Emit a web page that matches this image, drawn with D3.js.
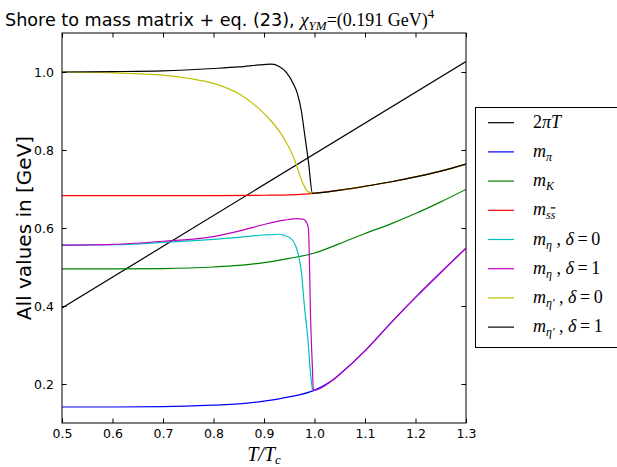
<!DOCTYPE html>
<html>
<head>
<meta charset="utf-8">
<script src="https://cdn.jsdelivr.net/npm/d3@7"></script>
<style>
  body { margin: 0; background: #fff; }
  svg { display: block; }
</style>
</head>
<body>
<svg id="chart"></svg>
<script>
// T/Tc, value [GeV]
var twoPiT = [[0.5, 0.395], [1.3, 1.027]];
var mPi = [[0.5, 0.141], [0.6, 0.141], [0.7, 0.142], [0.8, 0.146], [0.85, 0.149], [0.9, 0.156],
  [0.95, 0.167], [0.998, 0.183], [1.036, 0.21], [1.05, 0.225], [1.1, 0.285], [1.15, 0.355],
  [1.2, 0.422], [1.25, 0.486], [1.3, 0.548]];
var mK = [[0.5, 0.495], [0.6, 0.495], [0.7, 0.496], [0.8, 0.5], [0.85, 0.504], [0.9, 0.511],
  [0.95, 0.522], [1.0, 0.536], [1.05, 0.56], [1.1, 0.586], [1.15, 0.61], [1.2, 0.637],
  [1.25, 0.667], [1.3, 0.699]];
var mSS = [[0.5, 0.683], [0.8, 0.683], [0.9, 0.684], [0.95, 0.685], [0.98, 0.687], [0.998, 0.689],
  [1.05, 0.697], [1.1, 0.707], [1.15, 0.718], [1.2, 0.731], [1.25, 0.746], [1.3, 0.764]];
var mEta0 = [[0.5, 0.556], [0.6, 0.557], [0.7, 0.563], [0.8, 0.571], [0.85, 0.576], [0.9, 0.582],
  [0.93, 0.584], [0.945, 0.579], [0.957, 0.568], [0.967, 0.537], [0.974, 0.488], [0.98, 0.4],
  [0.987, 0.313], [0.9915, 0.236], [0.996, 0.184]];
var mEta1 = [[0.5, 0.556], [0.6, 0.558], [0.7, 0.566], [0.8, 0.578], [0.85, 0.592], [0.9, 0.609],
  [0.94, 0.62], [0.965, 0.624], [0.977, 0.623], [0.984, 0.615], [0.988, 0.598], [0.99, 0.51],
  [0.992, 0.382], [0.9955, 0.254], [0.998, 0.183], [1.036, 0.21], [1.05, 0.225], [1.1, 0.285],
  [1.15, 0.355], [1.2, 0.422], [1.25, 0.486], [1.3, 0.548]];
var mEtaP0 = [[0.5, 1.0], [0.6, 0.998], [0.7, 0.992], [0.75, 0.984], [0.8, 0.971], [0.852, 0.943],
  [0.88, 0.917], [0.911, 0.879], [0.937, 0.835], [0.957, 0.786], [0.964, 0.762], [0.974, 0.724],
  [0.987, 0.693], [0.998, 0.689], [1.05, 0.697], [1.1, 0.707], [1.15, 0.718], [1.2, 0.731],
  [1.25, 0.746], [1.3, 0.764]];
var mEtaP1 = [[0.5, 1.0], [0.6, 1.001], [0.7, 1.003], [0.8, 1.009], [0.85, 1.013], [0.9, 1.019],
  [0.915, 1.02], [0.93, 1.014], [0.945, 0.998], [0.958, 0.97], [0.966, 0.945], [0.974, 0.9],
  [0.98, 0.845], [0.988, 0.77], [0.996, 0.689], [1.05, 0.697], [1.1, 0.707], [1.15, 0.718],
  [1.2, 0.731], [1.25, 0.746], [1.3, 0.764]];

var xTicks = [0.5, 0.6, 0.7, 0.8, 0.9, 1.0, 1.1, 1.2, 1.3];
var yTicks = [0.2, 0.4, 0.6, 0.8, 1.0];

var W = 617, H = 467;
var box = {left: 62, right: 466, top: 33, bottom: 423};

var svg = d3.select("#chart").attr("width", W).attr("height", H);
svg.append("rect").attr("width", W).attr("height", H).attr("fill", "#fff");

var x = d3.scaleLinear().domain([0.5, 1.3]).range([box.left, box.right]);
var y = d3.scaleLinear().domain([0.1, 1.1]).range([box.bottom, box.top]);

var series = [
  {data: twoPiT, color: "#000000"},
  {data: mPi, color: "#0000ff"},
  {data: mK, color: "#008000"},
  {data: mSS, color: "#ff0000"},
  {data: mEta0, color: "#00bfbf"},
  {data: mEta1, color: "#bf00bf"},
  {data: mEtaP0, color: "#bfbf00"},
  {data: mEtaP1, color: "#000000"}
];

var line = d3.line()
  .x(function(d) { return x(d[0]); })
  .y(function(d) { return y(d[1]); })
  .curve(d3.curveMonotoneX);

svg.append("clipPath").attr("id", "clip")
  .append("rect").attr("x", box.left).attr("y", box.top)
  .attr("width", box.right - box.left).attr("height", box.bottom - box.top);

var plot = svg.append("g").attr("clip-path", "url(#clip)");
series.forEach(function(s) {
  plot.append("path")
    .attr("d", line(s.data))
    .attr("fill", "none")
    .attr("stroke", s.color)
    .attr("stroke-width", 1.2);
});

// axes: ticks inside on all four sides (classic matplotlib look)
var tk = 4.5;
svg.append("g").attr("transform", "translate(0," + box.bottom + ")")
  .call(d3.axisBottom(x).tickValues(xTicks).tickSizeInner(-tk).tickSizeOuter(0).tickPadding(6)
    .tickFormat(d3.format(".1f")));
svg.append("g").attr("transform", "translate(0," + box.top + ")")
  .call(d3.axisTop(x).tickValues(xTicks).tickSizeInner(-tk).tickSizeOuter(0).tickFormat(""));
svg.append("g").attr("transform", "translate(" + box.left + ",0)")
  .call(d3.axisLeft(y).tickValues(yTicks).tickSizeInner(-tk).tickSizeOuter(0).tickPadding(8)
    .tickFormat(d3.format(".1f")));
svg.append("g").attr("transform", "translate(" + box.right + ",0)")
  .call(d3.axisRight(y).tickValues(yTicks).tickSizeInner(-tk).tickSizeOuter(0).tickFormat(""));

svg.selectAll(".domain").remove();
svg.selectAll(".tick line").attr("stroke", "#000").attr("stroke-width", 1);
svg.selectAll(".tick text")
  .attr("font-family", "DejaVu Sans").attr("font-size", "12.5px").attr("fill", "#000");

svg.append("rect")
  .attr("x", box.left).attr("y", box.top)
  .attr("width", box.right - box.left).attr("height", box.bottom - box.top)
  .attr("fill", "none").attr("stroke", "#000").attr("stroke-width", 1);

// title
var title = svg.append("text").attr("x", 5).attr("y", 26)
  .attr("font-family", "DejaVu Sans").attr("font-size", "17.6px");
title.append("tspan").text("Shore to mass matrix + eq. (23), ");
title.append("tspan").attr("font-family", "Liberation Serif").attr("font-style", "italic")
  .attr("font-size", "19px").text("χ");
title.append("tspan").attr("font-family", "Liberation Serif").attr("font-style", "italic")
  .attr("font-size", "13px").attr("dy", 4).text("YM");
title.append("tspan").attr("font-family", "Liberation Serif")
  .attr("font-size", "18px").attr("dy", -4).text("=(0.191 GeV)");
title.append("tspan").attr("font-family", "Liberation Serif")
  .attr("font-size", "13px").attr("dy", -8).text("4");

// axis labels
svg.append("text")
  .attr("transform", "translate(31," + ((box.top + box.bottom) / 2) + ") rotate(-90)")
  .attr("text-anchor", "middle")
  .attr("font-family", "DejaVu Sans").attr("font-size", "20px")
  .text("All values in [GeV]");

var xl = svg.append("text").attr("x", (box.left + box.right) / 2).attr("y", 461)
  .attr("text-anchor", "middle")
  .attr("font-family", "Liberation Serif").attr("font-style", "italic").attr("font-size", "20px");
xl.append("tspan").text("T/T");
xl.append("tspan").attr("font-size", "13px").attr("dy", 3).text("c");

// legend
var legendItems = [
  {color: "#000000", parts: [["2", 0, "normal"], ["πT", 0, "italic"]]},
  {color: "#0000ff", parts: [["m", 0, "italic"], ["π", 1, "italic"]]},
  {color: "#008000", parts: [["m", 0, "italic"], ["K", 1, "italic"]]},
  {color: "#ff0000", parts: [["m", 0, "italic"], ["s", 1, "italic"], ["s", 2, "italic"]]},
  {color: "#00bfbf", parts: [["m", 0, "italic"], ["η", 1, "italic"], [" , ", 0, "normal"], ["δ", 0, "italic"], ["\u2009=\u20090", 0, "normal"]]},
  {color: "#bf00bf", parts: [["m", 0, "italic"], ["η", 1, "italic"], [" , ", 0, "normal"], ["δ", 0, "italic"], ["\u2009=\u20091", 0, "normal"]]},
  {color: "#bfbf00", parts: [["m", 0, "italic"], ["η′", 1, "italic"], [" , ", 0, "normal"], ["δ", 0, "italic"], ["\u2009=\u20090", 0, "normal"]]},
  {color: "#000000", parts: [["m", 0, "italic"], ["η′", 1, "italic"], [" , ", 0, "normal"], ["δ", 0, "italic"], ["\u2009=\u20091", 0, "normal"]]}
];

var legend = svg.append("g");
legend.append("rect")
  .attr("x", 475.5).attr("y", 107.5).attr("width", 160).attr("height", 240)
  .attr("fill", "#fff").attr("stroke", "#000").attr("stroke-width", 1);

legendItems.forEach(function(item, i) {
  var cy = 122.7 + i * 29.2;
  legend.append("line")
    .attr("x1", 488).attr("x2", 514).attr("y1", cy).attr("y2", cy)
    .attr("stroke", item.color).attr("stroke-width", 1.2);
  var t = legend.append("text").attr("x", 533).attr("y", cy + 5)
    .attr("font-family", "Liberation Serif").attr("font-size", "18px")
    .attr("xml:space", "preserve");
  var shifted = false;
  item.parts.forEach(function(p) {
    var ts = t.append("tspan").attr("font-style", p[2]).text(p[0]);
    if (p[1] && !shifted) { ts.attr("dy", 4).attr("font-size", "12px"); shifted = true; }
    else if (p[1]) { ts.attr("font-size", "12px"); }
    else if (shifted) { ts.attr("dy", -4); shifted = false; }
    if (p[1] === 2) { ts.attr("text-decoration", "overline"); }
  });
});
</script>
</body>
</html>
